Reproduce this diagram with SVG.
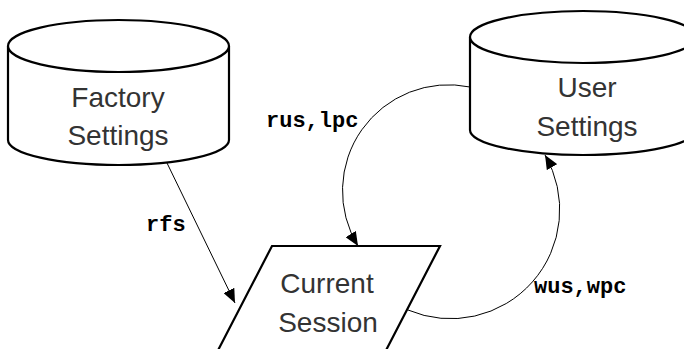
<svg xmlns="http://www.w3.org/2000/svg" width="684" height="349" viewBox="0 0 684 349">
<style>
.shape{fill:#fff;stroke:#000;stroke-width:2.2}
.lbl{font-family:"Liberation Sans",Arial,sans-serif;font-size:28px;fill:#333;text-anchor:middle}
.edge{fill:none;stroke:#000;stroke-width:1}
.elbl{font-family:"Liberation Mono","Courier New",monospace;font-size:22px;font-weight:bold;fill:#000}
</style>
<defs>
<marker id="ah" markerUnits="userSpaceOnUse" markerWidth="15" markerHeight="12" refX="14" refY="6" orient="auto">
<path d="M0,0 L14,6 L0,12 Z" fill="#000"/>
</marker>
</defs>
<rect width="684" height="349" fill="#fff"/>
<g id="factory">
<path class="shape" d="M8,46 V140 A110.5,25 0 0 0 229,140 V46"/>
<ellipse class="shape" cx="118.5" cy="46" rx="110.5" ry="26"/>
<text class="lbl" x="118" y="107">Factory</text>
<text class="lbl" x="118" y="145">Settings</text>
</g>
<g id="user">
<path class="shape" d="M470,37 V130 A113,25 0 0 0 696,130 V37"/>
<ellipse class="shape" cx="583" cy="37" rx="113" ry="26"/>
<text class="lbl" x="587" y="97">User</text>
<text class="lbl" x="587" y="136">Settings</text>
</g>
<g id="session">
<polygon class="shape" points="272,246 440,246 381,360 213,360"/>
<text class="lbl" x="327" y="293">Current</text>
<text class="lbl" x="328" y="332">Session</text>
</g>
<g id="connectors">
<line class="edge" x1="167" y1="163" x2="235" y2="303" marker-end="url(#ah)"/>
<path class="edge" d="M470,87 A106,106 0 0 0 358,246" marker-end="url(#ah)"/>
<path class="edge" d="M408,310 A109,109 0 0 0 545,155" marker-end="url(#ah)"/>
<text class="elbl" x="146" y="231">rfs</text>
<text class="elbl" x="266" y="127">rus,lpc</text>
<text class="elbl" x="534" y="293">wus,wpc</text>
</g>
</svg>
